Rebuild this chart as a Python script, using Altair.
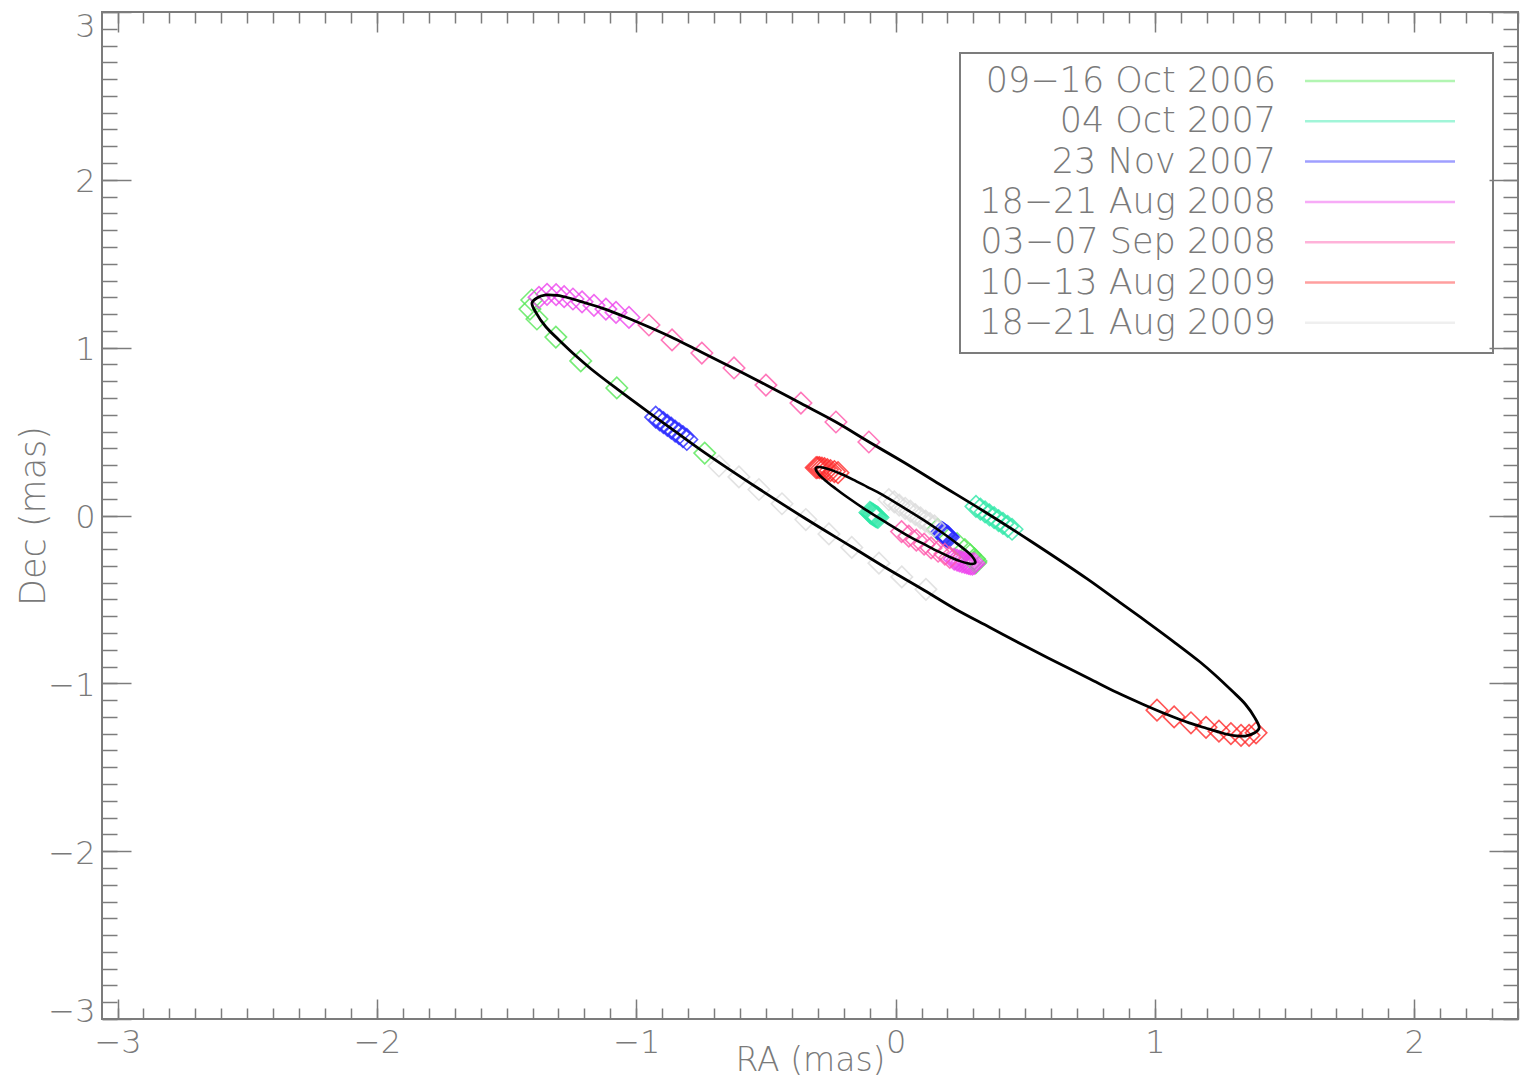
import altair as alt
import pandas as pd

# ---------------- axes ----------------
ra_domain = [-3.06, 2.40]
dec_domain = [-3.0, 3.0]
ra_major = [-3, -2, -1, 0, 1, 2]
dec_major = [-3, -2, -1, 0, 1, 2, 3]
ra_minor = [round(-3.0 + 0.1 * i, 1) for i in range(55)]
dec_minor = [round(-3.0 + 0.1 * i, 1) for i in range(61)]

# ---------------- legend ----------------
series_labels = ["09\u221216 Oct 2006", "04 Oct 2007", "23 Nov 2007",
                 "18\u221221 Aug 2008", "03\u221207 Sep 2008",
                 "10\u221213 Aug 2009", "18\u221221 Aug 2009"]
series_colors = ["#55e855", "#2fe8a8", "#2a2aff", "#ee44ee", "#ff55aa", "#ff2a2a", "#dcdcdc"]

# ---------------- model orbits (black curves) ----------------
# outer (relative) orbit, traced once around and overlapping its start
orbit_ra = [-0.102, 0.033, 0.168, 0.345, 0.526, 0.739, 0.862, 0.970, 1.074, 1.174,
            1.232, 1.298, 1.348, 1.386, 1.402,
            1.383, 1.348, 1.305, 1.259, 1.201, 1.132, 1.047, 0.951, 0.854, 0.746,
            0.623, 0.499, 0.364, 0.230, 0.102, -0.033, -0.168, -0.345, -0.526, -0.739,
            -0.862, -0.970, -1.074, -1.174, -1.232, -1.298, -1.348, -1.386,
            -1.402, -1.383, -1.348, -1.305, -1.259, -1.201, -1.132, -1.047, -0.951,
            -0.854, -0.746, -0.623, -0.499, -0.364, -0.230, -0.102, 0.033]
orbit_dec = [0.438, 0.316, 0.188, 0.021, -0.158, -0.378, -0.515, -0.635, -0.754, -0.873,
             -0.950, -1.046, -1.123, -1.207, -1.266,
             -1.296, -1.314, -1.311, -1.296, -1.269, -1.236, -1.186, -1.123, -1.055, -0.971,
             -0.876, -0.778, -0.667, -0.557, -0.438, -0.316, -0.188, -0.021, 0.158, 0.378,
             0.515, 0.635, 0.754, 0.873, 0.950, 1.046, 1.123, 1.207,
             1.266, 1.296, 1.314, 1.311, 1.296, 1.269, 1.236, 1.186, 1.123,
             1.055, 0.971, 0.876, 0.778, 0.667, 0.557, 0.438, 0.316]

# inner (photocentre) orbit
photo_ra = [-0.308, -0.297, -0.277, -0.249, -0.209, -0.164, -0.110, -0.050, 0.037, 0.116,
            0.190, 0.236, 0.271, 0.297, 0.308,
            0.297, 0.277, 0.249, 0.209, 0.164, 0.110, 0.050, -0.037, -0.116,
            -0.190, -0.236, -0.271, -0.297]
photo_dec = [0.279, 0.289, 0.285, 0.272, 0.247, 0.214, 0.171, 0.123, 0.041, -0.035,
             -0.113, -0.166, -0.209, -0.247, -0.279,
             -0.289, -0.285, -0.272, -0.247, -0.214, -0.171, -0.123, -0.041, 0.035,
             0.113, 0.166, 0.209, 0.247]

# ---------------- observations (diamonds) ----------------
rel_ra = [
    [-1.403, -1.410, -1.383, -1.310, -1.214, -1.075, -0.736],
    [0.310, 0.327, 0.345, 0.362, 0.380, 0.397, 0.414, 0.432, 0.449],
    [-0.925, -0.910, -0.895, -0.880, -0.865, -0.850, -0.835, -0.820, -0.805],
    [-1.375, -1.344, -1.309, -1.278, -1.244, -1.209, -1.163, -1.117, -1.078, -1.028],
    [-0.951, -0.862, -0.747, -0.623, -0.500, -0.365, -0.230, -0.103],
    [1.008, 1.074, 1.139, 1.197, 1.247, 1.293, 1.332, 1.363, 1.390],
    [-0.681, -0.604, -0.527, -0.438, -0.346, -0.257, -0.169, -0.064, 0.024, 0.117],
]
rel_dec = [
    [1.284, 1.230, 1.171, 1.063, 0.921, 0.760, 0.372],
    [0.054, 0.038, 0.021, 0.004, -0.013, -0.030, -0.047, -0.065, -0.082],
    [0.586, 0.570, 0.553, 0.537, 0.520, 0.503, 0.487, 0.470, 0.453],
    [1.300, 1.318, 1.316, 1.304, 1.290, 1.273, 1.252, 1.230, 1.210, 1.180],
    [1.135, 1.046, 0.968, 0.879, 0.777, 0.670, 0.557, 0.438],
    [-1.160, -1.200, -1.235, -1.262, -1.285, -1.300, -1.310, -1.310, -1.295],
    [0.295, 0.230, 0.155, 0.070, -0.024, -0.110, -0.190, -0.284, -0.366, -0.440],
]
pc_ra = [
    [0.309, 0.310, 0.304, 0.288, 0.267, 0.237, 0.162],
    [-0.068, -0.072, -0.076, -0.080, -0.084, -0.087, -0.091, -0.095, -0.099],
    [0.204, 0.200, 0.197, 0.194, 0.190, 0.187, 0.184, 0.180, 0.177],
    [0.303, 0.296, 0.288, 0.281, 0.274, 0.266, 0.256, 0.246, 0.237, 0.226],
    [0.209, 0.190, 0.164, 0.137, 0.110, 0.080, 0.051, 0.023],
    [-0.222, -0.236, -0.251, -0.263, -0.274, -0.284, -0.293, -0.300, -0.306],
    [0.150, 0.133, 0.116, 0.096, 0.076, 0.057, 0.037, 0.014, -0.005, -0.026],
]
pc_dec = [
    [-0.282, -0.271, -0.258, -0.234, -0.203, -0.167, -0.082],
    [-0.012, -0.008, -0.005, -0.001, 0.003, 0.007, 0.010, 0.014, 0.018],
    [-0.129, -0.125, -0.122, -0.118, -0.114, -0.111, -0.107, -0.103, -0.100],
    [-0.286, -0.290, -0.289, -0.286, -0.282, -0.280, -0.276, -0.271, -0.266, -0.260],
    [-0.250, -0.230, -0.213, -0.193, -0.171, -0.147, -0.123, -0.096],
    [0.255, 0.262, 0.268, 0.273, 0.279, 0.282, 0.285, 0.286, 0.285],
    [-0.062, -0.049, -0.033, -0.014, 0.006, 0.026, 0.043, 0.062, 0.081, 0.095],
]

# ---------------- tables ----------------
def obs_table(ras, decs):
    rows = []
    for lab, rr, dd in zip(series_labels, ras, decs):
        for r, d in zip(rr, dd):
            rows.append({"series": lab, "ra": r, "dec": d})
    return pd.DataFrame(rows)

rel_df = obs_table(rel_ra, rel_dec)
pc_df = obs_table(pc_ra, pc_dec)
orbit_df = pd.DataFrame({"ra": orbit_ra, "dec": orbit_dec, "i": range(len(orbit_ra))})
photo_df = pd.DataFrame({"ra": photo_ra, "dec": photo_dec, "i": range(len(photo_ra))})

# ---------------- styling ----------------
W, H = 1416, 1007
GREY = "#7c7c7c"
TXT = "#7a7a7a"
FONT = "DejaVu Sans"
FW = 200

def axis(orient, values, size, **extra):
    return alt.Axis(orient=orient, values=values, tickSize=size, offset=-size,
                    domain=False, grid=False, ticks=True, tickColor=GREY,
                    tickWidth=1.5, **extra)

nolab = dict(labels=False, title=None)

x_bottom_major = axis("bottom", ra_major, 20, labels=True, format="d",
                      labelFont=FONT, labelFontSize=32, labelFontWeight=FW,
                      labelColor=TXT, labelPadding=8, labelFlush=False,
                      title="RA (mas)", titleFont=FONT, titleFontSize=33,
                      titleFontWeight=FW, titleColor=TXT, titleX=W / 2,
                      titleY=61, titleBaseline="middle", titleAlign="center")
x_bottom_minor = axis("bottom", ra_minor, 11, **nolab)
x_top_major = axis("top", ra_major, 20, **nolab)
x_top_minor = axis("top", ra_minor, 11, **nolab)

y_left_major = axis("left", dec_major, 29, labels=True, format="d",
                    labelFont=FONT, labelFontSize=32, labelFontWeight=FW,
                    labelColor=TXT, labelPadding=7, labelFlush=False,
                    labelOffset={"condition": [{"test": "datum.value >= 3", "value": 14},
                                               {"test": "datum.value <= -3", "value": -8}],
                                 "value": 2},
                    title="Dec (mas)", titleFont=FONT, titleFontSize=35,
                    titleFontWeight=FW, titleColor=TXT, titleX=-98,
                    titleY=H / 2, titleAngle=-90, titleBaseline="middle",
                    titleAlign="center")
y_left_minor = axis("left", dec_minor, 15, **nolab)
y_right_major = axis("right", dec_major, 29, **nolab)
y_right_minor = axis("right", dec_minor, 15, **nolab)

xs = alt.Scale(domain=ra_domain, nice=False, zero=False)
ys = alt.Scale(domain=dec_domain, nice=False, zero=False)
cs = alt.Scale(domain=series_labels, range=series_colors)

def enc(xaxis, yaxis):
    return dict(x=alt.X("ra:Q", scale=xs, axis=xaxis),
                y=alt.Y("dec:Q", scale=ys, axis=yaxis))

diamond = dict(shape="diamond", filled=False, size=460, strokeWidth=1.6, opacity=0.8)

rel_layer = alt.Chart(rel_df).mark_point(**diamond).encode(
    color=alt.Color("series:N", scale=cs, legend=None),
    **enc(x_top_major, y_right_major))
pc_layer = alt.Chart(pc_df).mark_point(**diamond).encode(
    color=alt.Color("series:N", scale=cs, legend=None),
    **enc(x_top_minor, y_right_minor))
orbit_layer = alt.Chart(orbit_df).mark_line(
    color="black", strokeWidth=2.8, interpolate="catmull-rom").encode(
    order=alt.Order("i:Q"), **enc(x_bottom_major, y_left_major))
photo_layer = alt.Chart(photo_df).mark_line(
    color="black", strokeWidth=2.6, interpolate="cardinal-closed").encode(
    order=alt.Order("i:Q"), **enc(x_bottom_minor, y_left_minor))

# legend drawn by hand (labels left, line samples right, framed)
one = pd.DataFrame({"k": [0]})
legend_layers = [
    alt.Chart(one).mark_rect(fillOpacity=0, stroke=GREY, strokeWidth=2).encode(
        x=alt.value(858), x2=alt.value(1391), y=alt.value(41), y2=alt.value(341))
]
for i, (lab, col) in enumerate(zip(series_labels, series_colors)):
    yy = 69 + 40.3 * i
    legend_layers.append(
        alt.Chart(one).mark_text(text=lab, align="right", baseline="middle",
                                 font=FONT, fontSize=35, fontWeight=FW, color=TXT).encode(
            x=alt.value(1174), y=alt.value(yy)))
    legend_layers.append(
        alt.Chart(one).mark_rule(color=col, strokeWidth=2.5, opacity=0.45).encode(
            x=alt.value(1203), x2=alt.value(1353), y=alt.value(yy)))

chart = alt.layer(rel_layer, pc_layer, orbit_layer, photo_layer, *legend_layers).resolve_axis(
    x="independent", y="independent"
).properties(
    width=W, height=H,
    autosize=alt.AutoSizeParams(type="none"),
    padding={"left": 94, "top": 4, "right": 2, "bottom": 61},
    background="white",
).configure_view(stroke=GREY, strokeWidth=2)

chart.save("out.html", embed_options={"renderer": "svg", "actions": False})
